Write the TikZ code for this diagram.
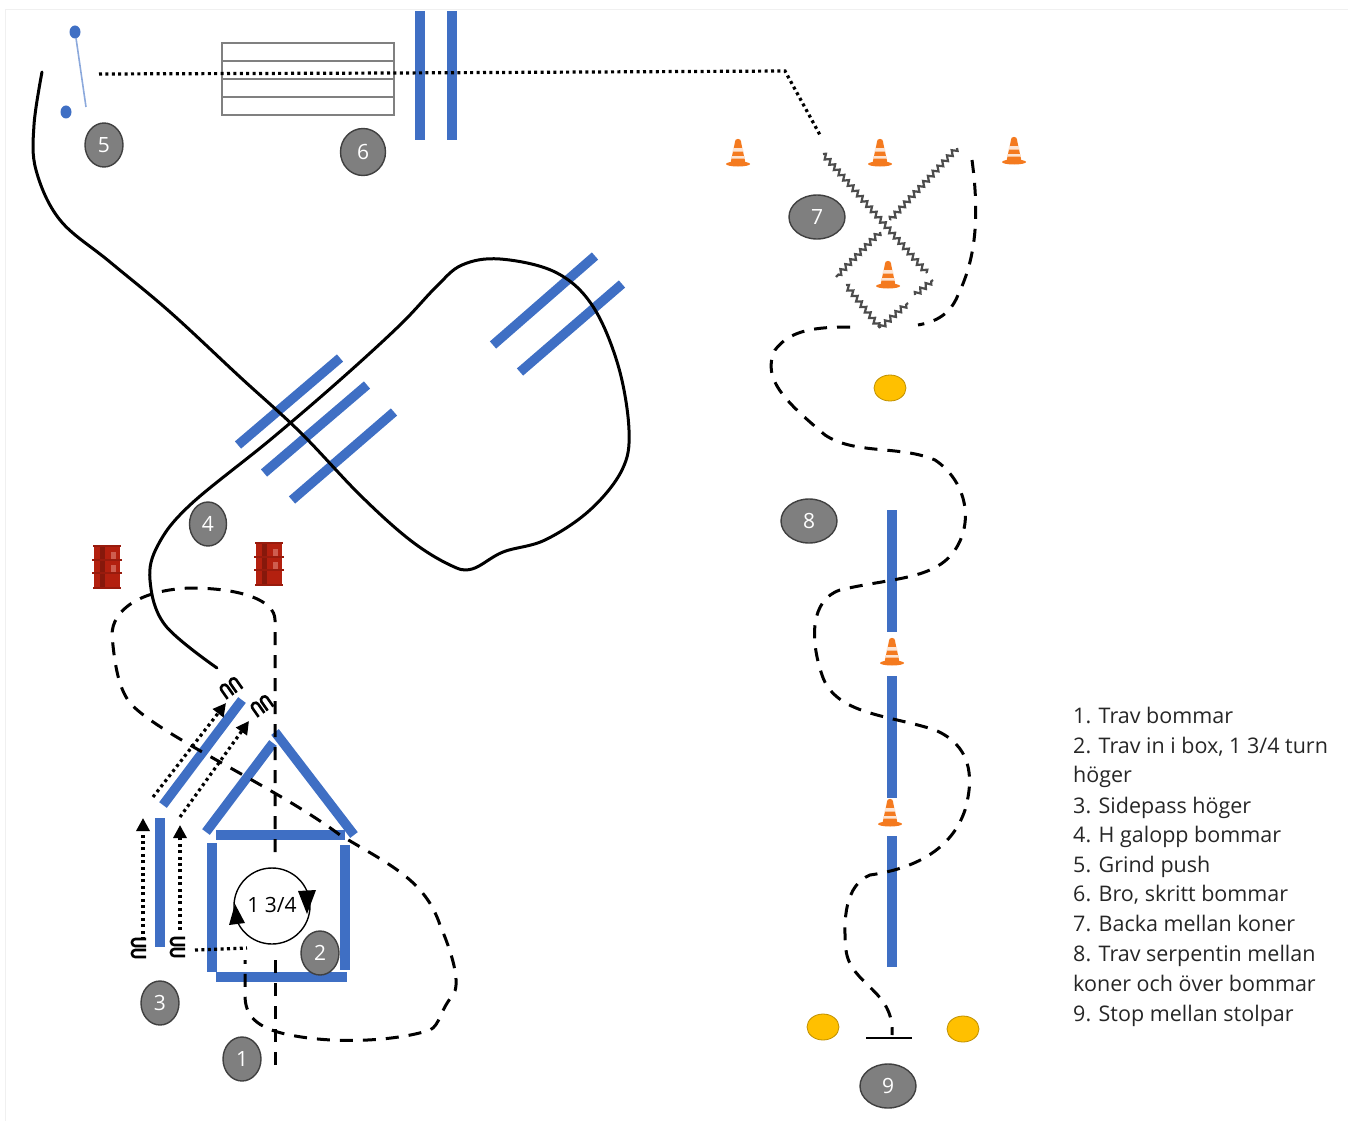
\documentclass[tikz,border=0pt]{standalone}
\usepackage{fontspec}
\setmainfont{Open Sans}
\usetikzlibrary{arrows.meta,decorations.pathmorphing,shapes.geometric}
\definecolor{barblue}{HTML}{3F6FC4}
\definecolor{markgray}{HTML}{7F7F7F}
\definecolor{coneorange}{HTML}{F47A1F}
\definecolor{barrelred}{HTML}{B3200F}
\definecolor{barrelpale}{HTML}{D9776B}
\definecolor{padyellow}{HTML}{FFC000}
\tikzset{
  bar/.style={draw=barblue,line width=9.5pt},
  solidpath/.style={draw=black,line width=3pt,line cap=round},
  dashpath/.style={draw=black,line width=3pt,dash pattern=on 13pt off 10pt},
  dotpath/.style={draw=black,line width=3.2pt,dash pattern=on 3pt off 3.4pt},
  dotarrow/.style={dotpath,-{Triangle[length=13pt,width=13pt]}},
  marker/.style={ellipse,draw=black!75,line width=1.4pt,fill=markgray,text=white,font=\fontsize{21}{24}\selectfont,inner sep=0pt,minimum width=38pt,minimum height=44pt},
  widemarker/.style={marker,minimum width=56pt},
  pad/.style={ellipse,draw=padyellow!75!black,line width=0.8pt,fill=padyellow,inner sep=0pt,minimum width=32pt,minimum height=26pt},
  legend/.style={anchor=base west,inner sep=0pt,font=\fontsize{21.5}{24}\selectfont,text=black!85},
  zig/.style={draw=black!70,line width=2.2pt,decorate,decoration={zigzag,segment length=7pt,amplitude=2.4pt}},
  boxline/.style={draw=black!50,line width=1.6pt},
  coil/.style={draw=black,line width=2.6pt,rounded corners=3.2pt},
  cone/.pic={
    \fill[coneorange] (0,-13) circle (3.2);
    \fill[coneorange] (-3,-13) -- (3,-13) -- (7.5,8) -- (-7.5,8) -- cycle;
    \fill[white!80!coneorange] (-4.8,-7) -- (4.8,-7) -- (5.6,-3.5) -- (-5.6,-3.5) -- cycle;
    \fill[white!80!coneorange] (-6.2,1) -- (6.2,1) -- (6.8,3.5) -- (-6.8,3.5) -- cycle;
    \fill[coneorange] (0,9) ellipse (12 and 2.5);
  },
  barrel/.pic={
    \fill[barrelred] (-13,-21) rectangle (13,21);
    \fill[barrelred!75!black] (-7,-21) rectangle (-2,21);
    \fill[barrelpale!70!barrelred] (4,-15) rectangle (9,-8);
    \fill[barrelpale!70!barrelred] (4,-2) rectangle (9,5);
    \draw[barrelred!85!black,line width=1.4pt] (-15,-7) -- (15,-7) (-15,6) -- (15,6) (-14,-21) -- (14,-21) (-14,21) -- (14,21);
  },
  coilpic/.pic={
    \draw[coil] (7,-9) -- (-7,-9) -- (-7,-2) -- (7,-2);
    \draw[coil] (7,2) -- (-7,2) -- (-7,9) -- (7,9);
  }
}
\begin{document}
\begin{tikzpicture}[x=1pt,y=-1pt]
\useasboundingbox (0,0) rectangle (1348,1121);
\draw[black!6,line width=1pt] (5,1121) -- (5,10) -- (1348,10);

% box / bridge
\draw[boxline] (222,43) rectangle (394,115);
\draw[boxline] (222,61) -- (394,61) (222,79) -- (394,79) (222,97) -- (394,97);

% blue poles
\draw[bar] (420,11) -- (420,140);
\draw[bar] (452,11) -- (452,140);
\draw[bar] (238,445) -- (340,358);
\draw[bar] (264,473) -- (367,385);
\draw[bar] (292,500) -- (394,412);
\draw[bar] (493,345) -- (595,256);
\draw[bar] (520,372) -- (622,284);
\draw[bar] (892,510) -- (892,632);
\draw[bar] (892,676) -- (892,798);
\draw[bar] (892,836) -- (892,967);
\draw[bar] (212,843) -- (212,972);
\draw[bar] (345,845) -- (345,970);
\draw[bar] (216,835) -- (345,835);
\draw[bar] (216,977) -- (347,977);
\draw[bar] (206,832) -- (273,743);
\draw[bar] (275,732) -- (354,835);
\draw[bar] (160,818) -- (160,947);
\draw[bar] (163,805) -- (242,700);

% grind push
\fill[barblue] (75,32) ellipse (5.5pt and 6.5pt);
\fill[barblue] (66,112) ellipse (5.5pt and 6.5pt);
\draw[barblue!60,line width=1.6pt] (76,38) -- (86,107);

% solid route
\draw[solidpath] plot[smooth,tension=0.6] coordinates {(42,72) (34,125) (36,170) (60,220) (110,262) (170,312) (240,377) (300,432) (360,495) (410,540) (450,565) (472,569) (503,552) (545,540) (590,510) (622,470) (629,430) (618,365) (592,305) (555,272) (500,259) (462,265) (436,287) (400,325) (340,380) (270,440) (190,505) (158,545) (150,580) (165,625) (217,668)};

% dashed routes
\draw[dashpath] (275,1065) -- (275,957);
\draw[dashpath] (275,852) -- (275,620) .. controls (275,600) and (240,588) .. (190,588) .. controls (140,590) and (112,610) .. (112,635) .. controls (115,670) and (120,695) .. (135,708) .. controls (170,740) and (280,790) .. (340,835) .. controls (390,865) and (425,880) .. (440,925) .. controls (455,960) and (460,985) .. (453,995) .. controls (440,1010) and (440,1025) .. (430,1030) .. controls (400,1040) and (340,1045) .. (290,1035) .. controls (255,1028) and (245,1015) .. (245,995) -- (245,960);
\draw[dashpath] (972,160) .. controls (980,220) and (975,260) .. (958,295) .. controls (950,315) and (935,322) .. (918,325);
\draw[dashpath] (850,327) .. controls (815,327) and (790,330) .. (775,350) .. controls (760,380) and (790,405) .. (825,435) .. controls (855,455) and (900,445) .. (935,460) .. controls (965,480) and (975,520) .. (955,550) .. controls (935,580) and (890,578) .. (840,590) .. controls (810,600) and (810,640) .. (822,675) .. controls (835,715) and (890,715) .. (935,730) .. controls (970,745) and (975,775) .. (965,810) .. controls (950,855) and (905,870) .. (870,875) .. controls (845,885) and (843,920) .. (846,950) .. controls (850,985) and (895,990) .. (892,1035);

% dotted routes
\draw[dotpath] (99,74) -- (395,73) -- (785,71) -- (820,135);
\draw[dotarrow] (143,940) -- (143,818);
\draw[dotarrow] (180,930) -- (180,825);
\draw[dotarrow] (153,797) -- (226,703);
\draw[dotarrow] (180,817) -- (249,721);
\draw[dotpath] (195,950) -- (247,948);

% coils
\pic at (139,948) {coilpic};
\pic at (178,947) {coilpic};
\pic[rotate=-55] at (231,688) {coilpic};
\pic[rotate=-55] at (262,706) {coilpic};

% turn
\node[circle,draw=black,line width=1.4pt,fill=white,minimum size=76pt,inner sep=0pt,font=\fontsize{21}{24}\selectfont] (turn) at (272,906) {\raisebox{2pt}{1 3/4}};
\fill[black] (298,891) -- (316,890) -- (307,914) -- cycle;
\fill[black] (229,925) -- (245,923) -- (235,904) -- cycle;

% reverse section (7)
\draw[zig] (823,154) -- (927,273);
\draw[zig] (957,148) -- (890,220);
\draw[zig] (880,232) -- (836,277);
\draw[zig] (846,285) -- (880,328);
\draw[zig] (880,328) -- (908,303);
\draw[zig] (915,295) -- (933,280);

% cones
\foreach \p in {(738,155),(880,155),(1014,153),(888,277),(892,654),(890,815)} \pic at \p {cone};

% barrels
\pic at (107,567) {barrel};
\pic at (269,564) {barrel};

% pads
\node[pad] (padA) at (890,388) {};
\node[pad] (padB) at (823,1027) {};
\node[pad] (padC) at (963,1029) {};
\draw[black,line width=2.6pt] (866,1038) -- (912,1038);

% number markers
\node[marker] (m1) at (242,1059) {1};
\node[marker] (m2) at (320,953) {2};
\node[marker] (m3) at (160,1003) {3};
\node[marker,minimum width=37pt] (m4) at (208,524) {4};
\node[marker] (m5) at (104,145) {5};
\node[marker,minimum width=45pt,minimum height=47pt] (m6) at (363,152) {6};
\node[widemarker] (m7) at (817,217) {7};
\node[widemarker] (m8) at (809,521) {8};
\node[widemarker] (m9) at (888,1086) {9};

% legend
\node[legend] (l1) at (1073,723) {1. Trav bommar};
\node[legend] (l2) at (1073,753) {2. Trav in i box, 1 3/4 turn};
\node[legend] (l3) at (1073,782) {höger};
\node[legend] (l4) at (1073,813) {3. Sidepass höger};
\node[legend] (l5) at (1073,842) {4. H galopp bommar};
\node[legend] (l6) at (1073,872) {5. Grind push};
\node[legend] (l7) at (1073,901) {6. Bro, skritt bommar};
\node[legend] (l8) at (1073,931) {7. Backa mellan koner};
\node[legend] (l9) at (1073,961) {8. Trav serpentin mellan};
\node[legend] (l10) at (1073,991) {koner och över bommar};
\node[legend] (l11) at (1073,1021) {9. Stop mellan stolpar};
\end{tikzpicture}
\end{document}
